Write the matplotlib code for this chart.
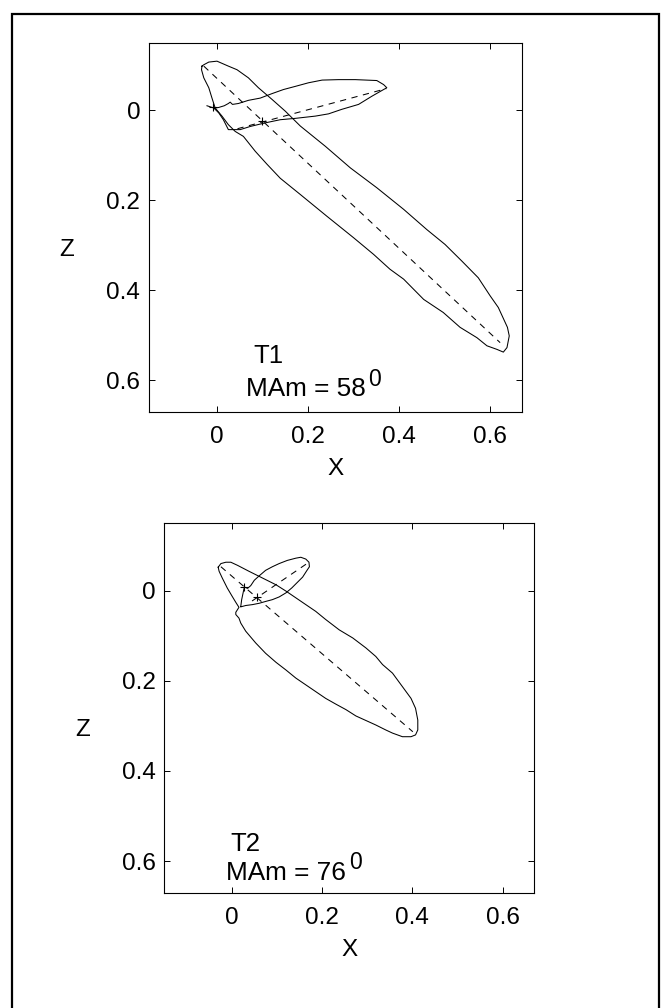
import matplotlib
matplotlib.use("Agg")
import matplotlib.pyplot as plt
from matplotlib.patches import Rectangle

plt.rcParams['font.family'] = ['Liberation Sans', 'DejaVu Sans']
plt.rcParams['lines.scale_dashes'] = False

# ---- T1 (top panel) ----
t1_long_x = [-0.033, -0.029, -0.018, 0.000, 0.025, 0.044, 0.069, 0.091, 0.121, 0.150,
             0.172, 0.183, 0.238, 0.293, 0.351, 0.410, 0.461, 0.501, 0.538, 0.574,
             0.600, 0.618, 0.638, 0.642, 0.637, 0.629, 0.615, 0.593, 0.571, 0.534,
             0.497, 0.454, 0.410, 0.380, 0.344, 0.300, 0.241, 0.183, 0.139, 0.110,
             0.084, 0.058, 0.040, 0.025, 0.011, -0.004, -0.011, -0.018, -0.029, -0.034,
             -0.033]
t1_long_z = [-0.098, -0.101, -0.107, -0.109, -0.098, -0.090, -0.072, -0.050, -0.024, 0.002,
             0.024, 0.035, 0.080, 0.128, 0.172, 0.220, 0.265, 0.298, 0.335, 0.372,
             0.412, 0.438, 0.482, 0.501, 0.527, 0.537, 0.531, 0.523, 0.505, 0.482,
             0.449, 0.420, 0.375, 0.353, 0.320, 0.283, 0.235, 0.187, 0.151, 0.120,
             0.091, 0.058, 0.047, 0.032, 0.013, -0.005, -0.027, -0.050, -0.072, -0.090,
             -0.098]
t1_short_x = [-0.022, -0.007, 0.003, 0.016, 0.025, 0.029, 0.034, 0.047, 0.069, 0.095,
              0.121, 0.146, 0.172, 0.201, 0.231, 0.267, 0.304, 0.351, 0.366, 0.373,
              0.359, 0.340, 0.311, 0.274, 0.245, 0.216, 0.172, 0.139, 0.106, 0.073,
              0.051, 0.025, 0.014, 0.004, -0.007]
t1_short_z = [-0.010, -0.005, -0.006, -0.010, -0.015, -0.018, -0.013, -0.015, -0.022, -0.027,
              -0.037, -0.046, -0.053, -0.061, -0.067, -0.068, -0.068, -0.066, -0.057, -0.050,
              -0.042, -0.031, -0.013, -0.002, 0.008, 0.013, 0.018, 0.021, 0.028, 0.036,
              0.043, 0.043, 0.021, 0.006, -0.005]
t1_major = ([-0.029, 0.622], [-0.098, 0.516])
t1_minor = ([0.045, 0.372], [0.041, -0.048])
t1_centre_x = [0.099, -0.008]
t1_centre_z = [0.024, -0.007]
t1_angle = 58

# ---- T2 (bottom panel) ----
t2_long_x = [-0.030, -0.024, -0.013, -0.002, 0.013, 0.038, 0.068, 0.098, 0.120, 0.142,
             0.164, 0.186, 0.208, 0.238, 0.268, 0.297, 0.319, 0.334, 0.356, 0.378,
             0.397, 0.407, 0.412, 0.412, 0.407, 0.397, 0.378, 0.356, 0.341, 0.319,
             0.297, 0.275, 0.253, 0.231, 0.208, 0.186, 0.164, 0.142, 0.120, 0.098,
             0.075, 0.053, 0.031, 0.020, 0.016, 0.009, 0.009, 0.016, 0.009, 0.000,
             -0.010, -0.021, -0.028, -0.030]
t2_long_z = [-0.052, -0.060, -0.063, -0.063, -0.056, -0.043, -0.028, -0.013, 0.001, 0.016,
             0.031, 0.046, 0.064, 0.087, 0.105, 0.127, 0.146, 0.164, 0.183, 0.213,
             0.239, 0.261, 0.287, 0.309, 0.320, 0.324, 0.324, 0.316, 0.309, 0.298,
             0.288, 0.278, 0.264, 0.252, 0.239, 0.224, 0.209, 0.194, 0.176, 0.159,
             0.139, 0.116, 0.090, 0.072, 0.061, 0.053, 0.048, 0.037, 0.026, 0.011,
             -0.006, -0.028, -0.043, -0.052]
t2_short_x = [0.020, 0.022, 0.026, 0.028, 0.035, 0.042, 0.050, 0.061, 0.075, 0.090,
              0.105, 0.123, 0.142, 0.153, 0.164, 0.171, 0.172, 0.166, 0.157, 0.146,
              0.133, 0.120, 0.105, 0.090, 0.075, 0.061, 0.046, 0.031, 0.020]
t2_short_z = [0.035, 0.020, 0.001, -0.008, -0.005, -0.011, -0.023, -0.033, -0.045, -0.053,
              -0.060, -0.067, -0.072, -0.074, -0.070, -0.063, -0.053, -0.044, -0.030, -0.019,
              -0.006, 0.005, 0.014, 0.020, 0.024, 0.028, 0.031, 0.033, 0.036]
t2_major = ([-0.024, 0.401], [-0.053, 0.313])
t2_minor = ([0.045, 0.168], [0.023, -0.061])
t2_centre_x = [0.057, 0.027]
t2_centre_z = [0.015, -0.007]
t2_angle = 76

ticks = [0, 0.2, 0.4, 0.6]
tick_labels = ['0', '0.2', '0.4', '0.6']
lims = (-0.15, 0.67)

fig = plt.figure(figsize=(6.64, 10.08), dpi=100)

# outer frame (bottom edge falls off the canvas)
fig.patches.append(Rectangle((12 / 664, -0.01), 647 / 664, 1.003 - 7 / 1008,
                             transform=fig.transFigure, fill=False,
                             edgecolor='black', linewidth=1.6, clip_on=False))


def panel(rect, lx, lz, sx, sz, major, minor, cx, cz, name, angle, name_xy, mam_xy, sup_xy):
    ax = fig.add_axes(rect)
    ax.plot(lx, lz, color='black', lw=0.75)
    ax.plot(sx, sz, color='black', lw=0.75)
    ax.plot(*major, color='black', lw=0.75, linestyle=(0, (4.5, 4)))
    ax.plot(*minor, color='black', lw=0.75, linestyle=(0, (4.5, 4)))
    ax.plot(cx, cz, '+', color='black', ms=6, mew=0.8)
    ax.set_xlim(*lims)
    ax.set_ylim(lims[1], lims[0])
    ax.set_xticks(ticks)
    ax.set_xticklabels(tick_labels)
    ax.set_yticks(ticks)
    ax.set_yticklabels(tick_labels)
    ax.tick_params(direction='in', length=4, width=0.7, top=True, right=True,
                   labelsize=17.5, pad=6)
    ax.tick_params(axis='x', pad=10)
    for s in ax.spines.values():
        s.set_linewidth(0.8)
    ax.text(0.5, -0.155, 'X', transform=ax.transAxes, ha='center', va='center', fontsize=17.5)
    ax.text(-0.22, 0.44, 'Z', transform=ax.transAxes, ha='center', va='center', fontsize=17.5)
    ax.text(name_xy[0], name_xy[1], name, fontsize=18.5, va='baseline')
    ax.text(mam_xy[0], mam_xy[1], 'MAm = %d' % angle, fontsize=18.8, va='baseline')
    ax.text(sup_xy[0], sup_xy[1], '0', fontsize=16.5, va='baseline')
    return ax


panel([148.7 / 664, 1 - 412 / 1008, 373.3 / 664, 369.3 / 1008],
      t1_long_x, t1_long_z, t1_short_x, t1_short_z, t1_major, t1_minor,
      t1_centre_x, t1_centre_z, 'T1', t1_angle,
      (0.080, 0.562), (0.064, 0.634), (0.332, 0.612))

panel([164 / 664, 1 - 892.7 / 1008, 370.3 / 664, 369.7 / 1008],
      t2_long_x, t2_long_z, t2_short_x, t2_short_z, t2_major, t2_minor,
      t2_centre_x, t2_centre_z, 'T2', t2_angle,
      (-0.004, 0.577), (-0.012, 0.641), (0.259, 0.618))

fig.savefig('out.png', dpi=100)
